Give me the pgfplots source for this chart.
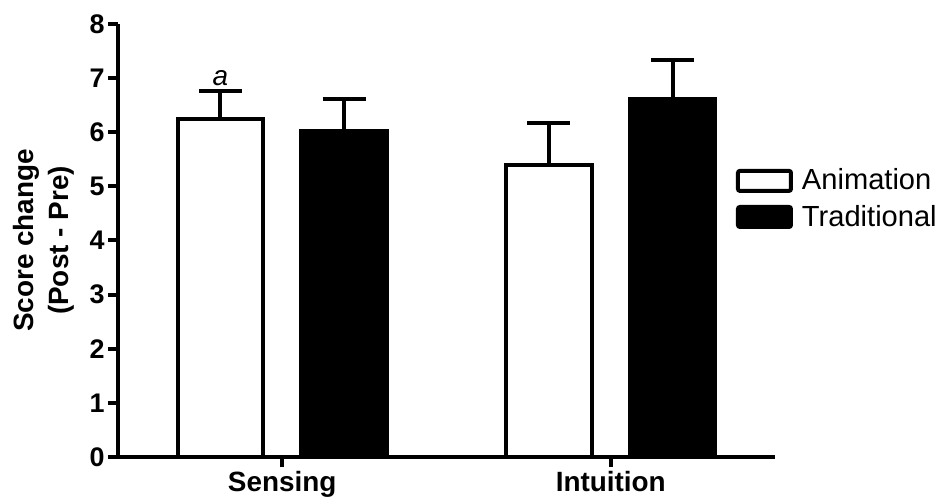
\documentclass[border=0pt]{standalone}
\usepackage{pgfplots}
\pgfplotsset{compat=1.18}
\usepackage{fontspec}
\setmainfont{Liberation Sans}

\begin{document}
\begin{tikzpicture}
\begin{axis}[
  at={(59bp,21bp)}, anchor=south west,
  scale only axis,
  width=328.5bp, height=216.5bp,
  xmin=-0.5, xmax=1.5, ymin=0, ymax=8,
  axis lines=left,
  axis line style={-, line width=2bp, black},
  tick style={line width=2bp, black},
  tick align=outside,
  major tick length=5bp,
  xtick={0,1}, xticklabels={Sensing,Intuition},
  ytick={0,1,2,3,4,5,6,7,8},
  /pgf/number format/assume math mode=true,
  yticklabel style={font=\fontsize{13.5}{15}\selectfont\bfseries, inner sep=1.5bp},
  xticklabel style={font=\fontsize{14}{16}\selectfont\bfseries, inner sep=2bp},
  every axis y label/.style={at={(axis description cs:0,0.5)}, xshift=-37bp, anchor=center, rotate=90, align=center, font=\fontsize{14}{17.5}\selectfont\bfseries},
  ylabel={Score change\\(Post - Pre)},
  ybar, bar width=0.26,
  legend style={draw=none, fill=none, at={(0.94,0.596)}, anchor=west, font=\fontsize{14.6}{17}\selectfont, row sep=4bp, inner sep=0pt, nodes={inner sep=1bp}},
  legend cell align=left,
  clip=false,
]
\addplot[bar shift=-0.188, draw=black, fill=white, line width=2bp,
  error bars/.cd, y dir=plus, y explicit,
  error bar style={line width=2bp, black},
  error mark options={rotate=90, line width=2bp, black, mark size=10.75bp},
  /pgfplots/legend image code/.code={\draw[line width=2bp, black, fill=white, rounded corners=1bp] (0bp,-5bp) rectangle (26.5bp,5bp); \path (30bp,0bp);}]
  coordinates {(0,6.24) +- (0,0.53) (1,5.39) +- (0,0.79)};
\addlegendentry{Animation}
\addplot[bar shift=0.188, draw=black, fill=black, line width=2bp,
  error bars/.cd, y dir=plus, y explicit,
  error bar style={line width=2bp, black},
  error mark options={rotate=90, line width=2bp, black, mark size=10.75bp},
  /pgfplots/legend image code/.code={\draw[line width=2bp, black, fill=black, rounded corners=1bp] (0bp,-5bp) rectangle (26.5bp,5bp); \path (30bp,0bp);}]
  coordinates {(0,6.03) +- (0,0.59) (1,6.61) +- (0,0.73)};
\addlegendentry{Traditional}
\node[anchor=base, font=\fontsize{14}{16}\selectfont\itshape, inner sep=0pt] at (axis cs:-0.188,6.87) {a};
\end{axis}
\pgfresetboundingbox
\path (0,0) rectangle (470.5bp,249.5bp);
\end{tikzpicture}
\end{document}
